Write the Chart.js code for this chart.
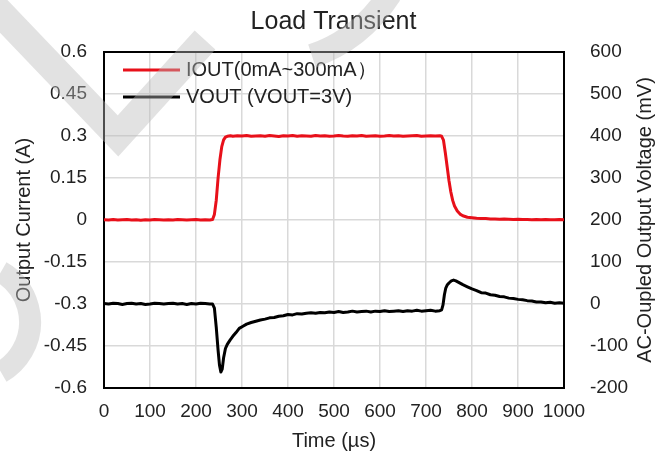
<!DOCTYPE html>
<html>
<head>
<meta charset="utf-8">
<title>Load Transient</title>
<script src="https://cdn.jsdelivr.net/npm/chart.js@4.4.1/dist/chart.umd.min.js"></script>
<style>
  html, body { margin: 0; padding: 0; background: #fff; }
  #wrap { width: 667px; height: 457px; }
</style>
</head>
<body>
<div id="wrap"><canvas id="transient"></canvas></div>
<script>
// time axis and tick values
const timeTicks = [0, 100, 200, 300, 400, 500, 600, 700, 800, 900, 1000];
const currentTicks = [-0.6, -0.45, -0.3, -0.15, 0, 0.15, 0.3, 0.45, 0.6];
const voltageTicks = [-200, -100, 0, 100, 200, 300, 400, 500, 600];

// load current step (A)
const ioutTime = [
	0, 10, 20, 30, 40, 50, 60, 70, 80, 90, 100, 110, 120, 130, 140, 150, 160, 170, 180, 190, 200, 210, 220, 230,
	236, 240, 244, 248, 252, 256, 260, 264, 268, 275,
	280, 290, 300, 310, 320, 330, 340, 350, 360, 370, 380, 390, 400, 410, 420, 430, 440, 450, 460, 470,
	480, 490, 500, 510, 520, 530, 540, 550, 560, 570, 580, 590, 600, 610, 620, 630, 640, 650, 660, 670,
	680, 690, 700, 710, 720, 730,
	734, 738, 742, 746, 750, 754, 758, 762, 768, 774, 780, 790,
	800, 810, 820, 830, 840, 850, 860, 870, 880, 890, 900, 910, 920, 930, 940, 950, 960, 970, 980, 990, 1000
];
const ioutAmps = [
	0.001, 0, 0.002, 0, 0.001, 0.002, 0, 0.001, -0.001, 0.001, 0, 0.002, 0.001, 0, 0.001, 0, 0.002, 0.001, 0, 0.001, 0.002, 0, 0.001, 0,
	0.002, 0.02, 0.07, 0.15, 0.215, 0.262, 0.286, 0.296, 0.299, 0.301,
	0.299, 0.301, 0.300, 0.302, 0.299, 0.300, 0.301, 0.299, 0.302, 0.300,
	0.298, 0.301, 0.300, 0.302, 0.299, 0.301, 0.300, 0.299, 0.302, 0.300,
	0.301, 0.299, 0.300, 0.302, 0.300, 0.299, 0.301, 0.300, 0.302, 0.299,
	0.300, 0.301, 0.299, 0.300, 0.302, 0.300, 0.301, 0.299, 0.300, 0.301,
	0.302, 0.299, 0.300, 0.301, 0.300, 0.301,
	0.299, 0.285, 0.24, 0.19, 0.14, 0.1, 0.07, 0.05, 0.032, 0.021, 0.015, 0.01,
	0.008, 0.006, 0.005, 0.005, 0.004, 0.004, 0.003, 0.004, 0.003, 0.002, 0.003, 0.002, 0.002, 0.001, 0.002, 0.001, 0.002, 0.001, 0.001, 0.002, 0.001
];

// ac-coupled output voltage (mV)
const voutTime = [
	0, 10, 20, 30, 40, 50, 60, 70, 80, 90, 100, 110, 120, 130, 140, 150, 160, 170, 180, 190, 200, 210, 220, 230,
	236, 240, 244, 248, 251, 254, 257, 260, 264, 268, 274, 280, 287, 294, 302, 310,
	320, 330, 340, 350, 360, 370, 380, 390, 400, 410, 420, 430, 440, 450, 460, 470, 480, 490, 500, 510,
	520, 530, 540, 550, 560, 570, 580, 590, 600, 610, 620, 630, 640, 650, 660, 670, 680, 690, 700, 710,
	720, 730,
	734, 737, 740, 743, 746, 750, 755, 760, 765, 770, 775, 780,
	790, 800, 810, 820, 830, 840, 850, 860, 870, 880, 890, 900, 910, 920, 930, 940, 950, 960, 970, 980, 990, 1000
];
const voutMv = [
	1, 0, 2, 1, -1, 1, 2, 0, 1, -1, 0, 2, 1, 0, 1, 2, 0, 1, -1, 1, 0, 2, 1, 0,
	0, -10, -55, -110, -145, -162, -155, -128, -106, -96, -86, -77, -68, -58, -53, -48,
	-44, -41, -38, -36, -33, -32, -29, -28, -25, -26, -23, -24, -22, -21, -22, -20, -21, -19, -20, -18,
	-20, -19, -17, -19, -18, -17, -19, -17, -18, -16, -18, -17, -16, -18, -16, -17, -15, -17, -16, -15,
	-17, -16,
	-14, -2, 22, 38, 45, 50, 55, 57, 55, 52, 49, 46,
	41, 36, 32, 27, 26, 22, 21, 18, 17, 14, 13, 11, 10, 8, 7, 5, 5, 3, 4, 2, 3, 2
];

const FONT = "'Liberation Sans', Arial, sans-serif";
const TEXT = '#222222';
const GRID = '#d9d9d9';

Chart.defaults.font.family = FONT;
Chart.defaults.color = TEXT;

function toPoints (xs, ys) {
	return xs.map((x, i) => ({ x: x, y: ys[i] }));
}

function fixedTicks (values) {
	return function (scale) {
		scale.ticks = values.map(v => ({ value: v }));
	};
}

// black box round the plot area
const frame = {
	id: 'frame',
	beforeDatasetsDraw (chart) {
		const { ctx, chartArea: a } = chart;
		ctx.save();
		ctx.strokeStyle = '#000';
		ctx.lineWidth = 2;
		ctx.strokeRect(a.left, a.top, a.right - a.left, a.bottom - a.top);
		ctx.restore();
	}
};

// legend drawn inside the plot, top left
const insideLegend = {
	id: 'insideLegend',
	afterDraw (chart, args, opts) {
		const ctx = chart.ctx;
		ctx.save();
		ctx.font = opts.size + 'px ' + FONT;
		ctx.textBaseline = 'middle';
		ctx.textAlign = 'left';
		chart.data.datasets.forEach((ds, i) => {
			const y = opts.y + i * opts.rowGap;
			ctx.strokeStyle = ds.borderColor;
			ctx.lineWidth = 3;
			ctx.beginPath();
			ctx.moveTo(opts.x, y);
			ctx.lineTo(opts.x + opts.lineLen, y);
			ctx.stroke();
			ctx.fillStyle = TEXT;
			ctx.fillText(ds.label, opts.x + opts.lineLen + 6, y);
		});
		ctx.restore();
	}
};

// right axis title, reading bottom to top
const rightTitle = {
	id: 'rightTitle',
	afterDraw (chart, args, opts) {
		const { ctx, chartArea: a } = chart;
		ctx.save();
		ctx.translate(a.right + opts.offset, (a.top + a.bottom) / 2);
		ctx.rotate(-Math.PI / 2);
		ctx.font = opts.size + 'px ' + FONT;
		ctx.fillStyle = TEXT;
		ctx.textAlign = 'center';
		ctx.textBaseline = 'middle';
		ctx.fillText(opts.text, 0, 0);
		ctx.restore();
	}
};

// faint grey watermark strokes over the top left corner
const watermark = {
	id: 'watermark',
	afterDraw (chart) {
		const ctx = chart.ctx;
		ctx.save();
		ctx.strokeStyle = 'rgba(185, 185, 185, 0.42)';
		ctx.lineCap = 'butt';
		ctx.lineJoin = 'miter';

		ctx.lineWidth = 28;
		ctx.beginPath();
		ctx.moveTo(-10, 2);
		ctx.lineTo(118, 136);
		ctx.lineTo(205, 40);
		ctx.stroke();

		ctx.lineWidth = 24;
		ctx.beginPath();
		ctx.moveTo(390, -6);
		ctx.quadraticCurveTo(360, 40, 312, 56);
		ctx.stroke();

		ctx.lineWidth = 22;
		ctx.beginPath();
		ctx.arc(-28, 322, 58, -Math.PI / 3, Math.PI / 3);
		ctx.stroke();
		ctx.restore();
	}
};

let chart = new Chart(document.getElementById('transient').getContext('2d'), {
	type: 'line',
	data: {
		datasets: [{
			label: 'IOUT(0mA~300mA）',
			data: toPoints(ioutTime, ioutAmps),
			yAxisID: 'yI',
			borderColor: '#e8101a',
			borderWidth: 3,
			pointRadius: 0,
			tension: 0,
			borderJoinStyle: 'round'
		}, {
			label: 'VOUT (VOUT=3V)',
			data: toPoints(voutTime, voutMv),
			yAxisID: 'yV',
			borderColor: '#000000',
			borderWidth: 3,
			pointRadius: 0,
			tension: 0,
			borderJoinStyle: 'round'
		}]
	},
	options: {
		animation: false,
		responsive: true,
		maintainAspectRatio: false,
		events: [],
		layout: { padding: 0 },
		plugins: {
			legend: { display: false },
			tooltip: { enabled: false },
			title: {
				display: true,
				text: 'Load Transient',
				color: TEXT,
				font: { size: 25, weight: 'normal' },
				padding: { top: 7, bottom: 15 }
			},
			insideLegend: { x: 123, y: 70, rowGap: 27, lineLen: 57, size: 20 },
			rightTitle: { text: 'AC-Oupled Output Voltage (mV)', offset: 81, size: 20 }
		},
		scales: {
			x: {
				type: 'linear',
				min: 0,
				max: 1000,
				afterBuildTicks: fixedTicks(timeTicks),
				afterFit: s => { s.height = 69; },
				ticks: { padding: 12, font: { size: 19 }, maxRotation: 0, autoSkip: false, callback: v => String(v) },
				grid: { color: GRID, lineWidth: 1.5, drawTicks: false },
				border: { display: false },
				title: { display: true, text: 'Time (µs)', font: { size: 20 }, padding: { top: 0, bottom: 4 } }
			},
			yI: {
				position: 'left',
				min: -0.6,
				max: 0.6,
				afterBuildTicks: fixedTicks(currentTicks),
				afterFit: s => { s.width = 104; },
				ticks: { padding: 17, font: { size: 19 }, callback: v => String(v) },
				grid: { color: GRID, lineWidth: 1.5, drawTicks: false },
				border: { display: false },
				title: { display: true, text: 'Output Current (A)', font: { size: 20 }, padding: { top: 12, bottom: 0 } }
			},
			yV: {
				position: 'right',
				min: -200,
				max: 600,
				afterBuildTicks: fixedTicks(voltageTicks),
				afterFit: s => { s.width = 103; },
				ticks: { padding: 18, font: { size: 19 }, callback: v => String(v) },
				grid: { display: false },
				border: { display: false }
			}
		}
	},
	plugins: [frame, insideLegend, rightTitle, watermark]
});
</script>
</body>
</html>
